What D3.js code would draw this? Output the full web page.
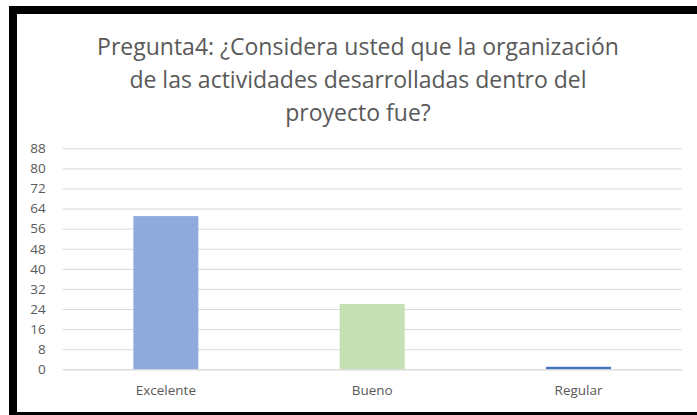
<!DOCTYPE html>
<html><head><meta charset="utf-8">
<script src="https://cdn.jsdelivr.net/npm/d3@7"></script>
<style>body{margin:0;background:#fff;}svg{display:block;}</style>
</head><body>
<svg id="c" width="697" height="415"></svg>
<script>
const titleLines = ["Pregunta4: ¿Considera usted que la organización", "de las actividades desarrolladas dentro del", "proyecto fue?"];
const categories = ["Excelente", "Bueno", "Regular"];
const values = [61, 26, 1];
const colors = ["#8faadc", "#c5e0b4", "#4472c4"];
const yTicks = [0, 8, 16, 24, 32, 40, 48, 56, 64, 72, 80, 88];

const svg = d3.select("#c");
const font = "'Open Sans', sans-serif";
// frame
svg.append("rect").attr("x", 9).attr("y", 6).attr("width", 688).attr("height", 8).attr("fill", "#000");
svg.append("rect").attr("x", 9).attr("y", 6).attr("width", 8).attr("height", 409).attr("fill", "#000");
svg.append("rect").attr("x", 9).attr("y", 412).attr("width", 688).attr("height", 3).attr("fill", "#000");

// title
svg.append("g").selectAll("text").data(titleLines).join("text")
  .attr("x", 358).attr("y", (d, i) => 55 + i * 33)
  .attr("text-anchor", "middle").attr("font-family", font).attr("font-size", 23)
  .attr("fill", "#595959").text(d => d);

const x = d3.scaleBand().domain(categories).range([62.7, 681.7]).paddingInner(0.685).paddingOuter(0.3425);
const y = d3.scaleLinear().domain([0, 88]).range([369.3, 148.3]);

const yAxis = svg.append("g").attr("transform", "translate(62.7,0)")
  .call(d3.axisLeft(y).tickValues(yTicks).tickSize(-619).tickPadding(17));
yAxis.select(".domain").remove();
yAxis.selectAll(".tick line").attr("stroke", "#d9d9d9");
yAxis.selectAll(".tick text").attr("font-family", font).attr("font-size", 13.5).attr("fill", "#595959");

svg.append("g").selectAll("rect").data(values).join("rect")
  .attr("x", (d, i) => x(categories[i])).attr("width", x.bandwidth())
  .attr("y", d => y(d)).attr("height", d => y(0) - y(d))
  .attr("fill", (d, i) => colors[i]);

const xAxis = svg.append("g").attr("transform", "translate(0,369.3)")
  .call(d3.axisBottom(x).tickSize(0).tickPadding(16));
xAxis.select(".domain").attr("stroke", "#d9d9d9");
xAxis.selectAll(".tick text").attr("font-family", font).attr("font-size", 13.5).attr("fill", "#595959");
</script>
</body></html>
